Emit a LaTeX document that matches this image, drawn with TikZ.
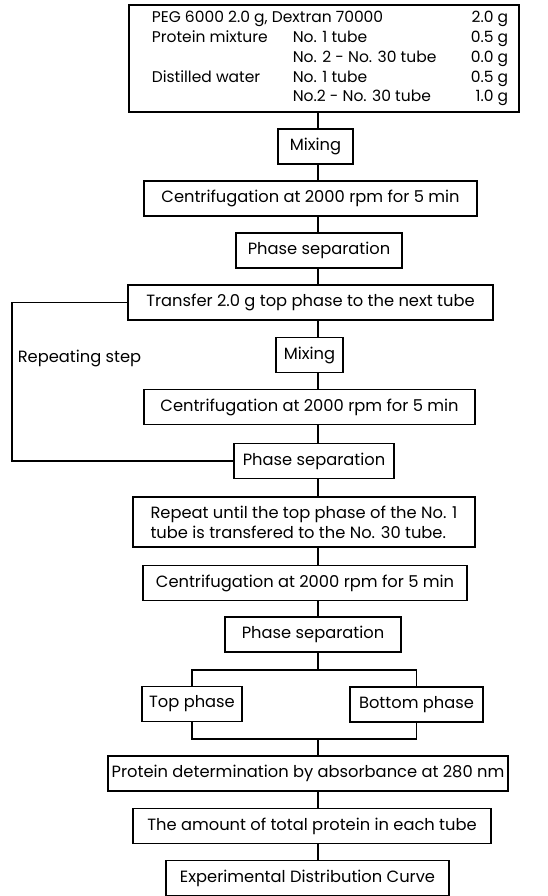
\documentclass[tikz,border=0pt]{standalone}
\usepackage{fontspec}
\setmainfont{Poppins}
\pgfdeclarelayer{background}
\pgfsetlayers{background,main}
\newcommand{\fs}{\fontsize{16.3}{20}\selectfont}
\tikzset{
  stepbox/.style={draw,line width=1.1pt,inner sep=2pt,minimum height=35pt,font=\fs},
  link/.style={line width=1.1pt},
}
\newcommand{\Step}[4][]% options, pos, name, text
{\node[stepbox,#1] (#3) at (#2) {#4};
}
\newcommand{\Link}[2]% from, to
{ \begin{pgfonlayer}{background}
    \draw[link] (#1 -| axis) -- (#2 -| axis);
  \end{pgfonlayer}}

\begin{document}
\begin{tikzpicture}[x=1pt,y=-1pt]
      \useasboundingbox (0,0) rectangle (547,896);
      \coordinate (axis) at (318,0);
      \coordinate (loop) at (12,0);
      \coordinate (split) at (318,670);
      \coordinate (merge) at (318,739);
      \node[stepbox,minimum width=390pt,minimum height=107pt,inner sep=0pt,font=\fontsize{15.5}{19.75}\selectfont] (mix) at (324,58.5)
        {\hspace*{12pt}\begin{tabular}{@{}p{141pt}@{}p{178pt}@{}r@{}}
          \multicolumn{2}{@{}l}{PEG 6000 2.0 g, Dextran 70000} & 2.0 g\\
          Protein mixture & No. 1 tube & 0.5 g\\
          & No. 2 - No. 30 tube & 0.0 g\\
          Distilled water & No. 1 tube & 0.5 g\\
          & No.2 - No. 30 tube & 1.0 g
        \end{tabular}};
      \Step[minimum width=75pt]{315.5,146.5}{mixA}{Mixing}
      \Step[minimum width=333pt]{310.5,198.5}{cenA}{Centrifugation at 2000 rpm for 5 min}
      \Step[minimum width=166pt]{319,250.5}{sepA}{Phase separation}
      \Step[minimum width=365pt]{310.5,302.5}{trans}{Transfer 2.0 g top phase to the next tube}
      \Step[minimum width=67pt]{309.5,355}{mixB}{Mixing}
      \Step[minimum width=331pt]{309.5,407}{cenB}{Centrifugation at 2000 rpm for 5 min}
      \Step[minimum width=160pt]{314,461}{sepB}{Phase separation}
      \Step[minimum width=342pt,minimum height=50pt,align=left]{304,522}{rep}{Repeat until the top phase of the No. 1\\tube is transfered to the No. 30 tube.}
      \Step[minimum width=324pt]{305,583}{cenC}{Centrifugation at 2000 rpm for 5 min}
      \Step[minimum width=176pt]{313,634.5}{sepC}{Phase separation}
      \Step[minimum width=100pt]{192,704}{top}{Top phase}
      \Step[minimum width=133pt]{416.5,704.5}{bot}{Bottom phase}
      \Step[minimum width=400pt]{308,773.5}{prot}{Protein determination by absorbance at 280 nm}
      \Step[minimum width=358pt]{312,826}{amt}{The amount of total protein in each tube}
      \Step[minimum width=283pt]{307.5,878}{exp}{Experimental Distribution Curve}
      \node[font=\fs] (rept) at (79.5,358) {Repeating step};
      \Link{mix.south}{mixA.north}
      \Link{mixA.south}{cenA.north}
      \Link{cenA.south}{sepA.north}
      \Link{sepA.south}{trans.north}
      \Link{trans.south}{mixB.north}
      \Link{mixB.south}{cenB.north}
      \Link{cenB.south}{sepB.north}
      \Link{sepB.south}{rep.north}
      \Link{rep.south}{cenC.north}
      \Link{cenC.south}{sepC.north}
      \Link{sepC.south}{split}
      \Link{merge}{prot.north}
      \Link{prot.south}{amt.north}
      \Link{amt.south}{exp.north}
      \begin{pgfonlayer}{background}
        \draw[link] (trans.west) -- (trans.west -| loop) |- (sepB.west);
        \draw[link] (top.north) |- (split) -| (bot.north);
        \draw[link] (top.south) |- (merge) -| (bot.south);
      \end{pgfonlayer}
    \end{tikzpicture}
\end{document}
